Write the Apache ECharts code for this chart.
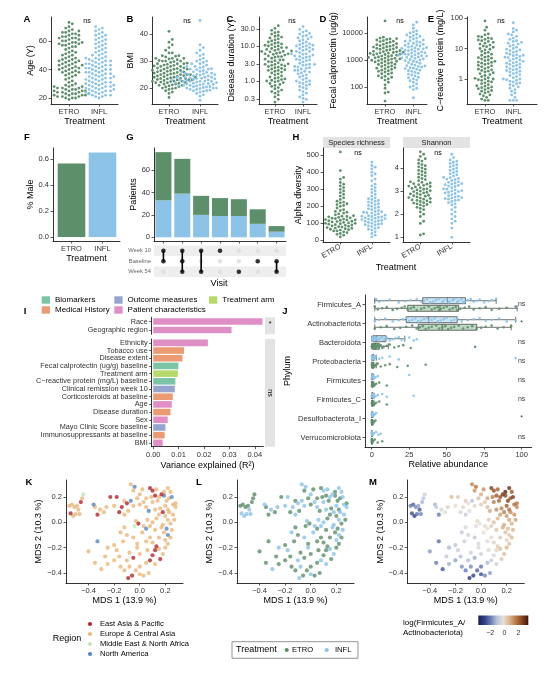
<!DOCTYPE html>
<html>
<head>
<meta charset="utf-8">
<script src="https://cdn.jsdelivr.net/npm/echarts@6/dist/echarts.min.js"></script>
<style>
html, body { margin: 0; padding: 0; background: #fff; }
#chart-container { width: 550px; height: 680px; }
</style>
</head>
<body>
<div id="chart-container"></div>
<script>
// ---------------- data ----------------
const treatments = ['ETRO', 'INFL'];

// A-E baseline characteristics
const ageEtro = [19,20,21,21,22,22,22,23,23,23,24,24,24,25,25,25,26,26,27,27,28,28,29,30,31,33,34,35,36,37,38,38,39,40,40,41,41,42,42,43,43,44,45,45,46,46,47,48,49,50,51,52,53,55,56,57,57,58,58,59,59,60,60,61,62,62,63,64,64,65,66,67,68,69,70,72,73,
  20,21,22,23,24,25,26,27,28,29,20,23,26,36,39,41,44,47,50,38,43,46,56,58,61,63,65,59,62,66,52,54,32,48,67];
const ageInfl = [20,21,22,22,23,23,24,24,25,25,26,26,27,27,28,28,29,29,30,30,31,31,32,33,33,34,34,35,35,36,37,37,38,38,39,40,40,41,41,42,43,43,44,44,45,46,46,47,48,48,49,50,51,52,53,54,55,56,57,58,59,60,61,62,63,64,65,66,67,70,
  22,24,26,28,30,32,34,36,38,40,42,44,46,48,50,25,29,33,37,41,45,27,31,35,39,43,47,52,55,58,61,64,68,69,21];
const bmiEtro = [16.5,18,18.5,19,19.5,20,20,20.5,21,21,21.2,21.5,21.5,22,22,22.2,22.5,22.5,22.8,23,23,23,23.2,23.5,23.5,23.8,24,24,24,24.2,24.5,24.5,24.8,25,25,25,25.2,25.5,25.5,25.8,26,26,26.2,26.5,26.5,27,27,27.2,27.5,27.5,28,28,28.2,28.5,29,29,29.2,29.5,30,30,30.2,30.5,31,31,31.5,32,32,33,34,35,36,37,38,41,
  20.8,21.8,22.4,22.6,23.4,23.6,24.4,24.6,25.4,25.6,26.4,26.6,27.4,27.6,28.4,28.8,29.8,30.8,19.8,20.4,22,23,24,25,26,27,28,29,30,31,31.8,33];
const bmiInfl = [15.5,17,17.5,18,18.5,19,19,19.5,19.5,20,20,20.2,20.5,20.5,21,21,21,21.2,21.5,21.5,21.8,22,22,22,22.2,22.5,22.5,22.5,22.8,23,23,23,23.2,23.5,23.5,23.8,24,24,24,24.5,24.5,25,25,25.5,25.5,26,26,26.5,27,27,27.5,28,28.5,29,29.5,30,30.5,31,32,33,34,35,36,45,
  19.2,19.8,20.4,20.8,21.4,21.6,22.4,22.6,23.4,23.6,24.2,24.8,25.2,25.8,26.2,26.8,27.2,28,29,30,18.8,20,21,22,23,24,25,26,27.8,32.5];
const durationEtro = [0.25,0.3,0.4,0.5,0.5,0.6,0.7,0.8,0.9,1,1,1.1,1.2,1.3,1.5,1.6,1.8,2,2,2.2,2.4,2.6,2.8,3,3,3.3,3.6,4,4,4.5,5,5,5.5,6,6,6.5,7,7,7.5,8,8,9,9,10,10,11,12,13,14,15,16,18,20,22,25,28,32,38,
  0.35,0.45,0.55,0.65,0.75,0.85,0.95,1.05,1.15,1.25,1.4,1.7,1.9,2.1,2.3,2.5,2.7,2.9,3.1,3.5,3.8,4.2,4.8,5.2,5.8,6.2,6.8,7.2,8.5,9.5,10.5,11.5,12.5,17,19,24];
const durationInfl = [0.25,0.3,0.35,0.4,0.5,0.6,0.7,0.8,0.9,1,1,1.2,1.4,1.5,1.7,2,2,2.3,2.5,2.8,3,3,3.5,4,4,4.5,5,5,5.5,6,6,7,7,8,8,9,10,10,11,12,13,15,16,18,20,22,25,30,36,
  0.32,0.45,0.55,0.65,0.75,0.85,0.95,1.1,1.3,1.6,1.8,1.9,2.2,2.4,2.6,2.9,3.2,3.8,4.2,4.8,5.2,5.8,6.5,7.5,8.5,9.5,10.5,11.5,14,17,19,23,27];
const calproEtro = [30,60,65,120,150,180,200,230,260,300,330,360,400,420,450,500,520,550,600,650,700,750,800,850,900,950,1000,1050,1100,1150,1200,1300,1400,1500,1600,1700,1800,1900,2000,2100,2200,2400,2600,2800,3000,3200,3500,3800,4000,4500,5000,5500,6000,6500,7000,28000,
  310,380,480,580,680,780,880,980,1080,1180,1250,1350,1450,1550,1650,1750,1850,1950,2050,2300,2500,2700,2900,3100,3400,3700,4200,4800,5200,5800,6200,250,220,90];
const calproInfl = [40,80,90,100,110,130,150,170,200,230,260,300,350,400,450,500,550,600,650,700,800,900,1000,1100,1200,1300,1400,1500,1600,1700,1800,1900,2000,2200,2400,2600,2800,3000,3300,3600,4000,4500,5000,5500,6000,7000,8000,9000,10000,12000,15000,20000,25000,
  180,220,280,320,380,420,480,520,580,620,750,850,950,1050,1150,1250,1350,1450,1550,1650,1750,1850,2100,2300,2500,2700,2900,3200,3500,3800,4200,4800,5200,6500,7500,8500,11000];
const crpEtro = [0.2,0.2,0.25,0.3,0.35,0.4,0.45,0.5,0.55,0.6,0.7,0.8,0.9,1,1,1.1,1.2,1.4,1.5,1.7,1.9,2,2.2,2.5,2.8,3,3.3,3.6,4,4.5,5,5.5,6,7,8,9,10,11,12,14,16,18,20,22,25,30,40,50,80,
  0.22,0.28,0.32,0.38,0.42,0.48,0.52,0.58,0.65,0.75,0.85,0.95,1.05,1.3,1.6,1.8,2.1,2.4,2.7,3.2,3.5,3.8,4.2,4.8,5.2,6.5,7.5,9.5,11.5,13,15,17,19,21,24,28];
const crpInfl = [0.2,0.2,0.2,0.3,0.4,0.5,0.6,0.7,0.8,0.9,1,1,1.2,1.3,1.5,1.7,2,2.2,2.5,2.8,3,3.3,3.6,4,4.5,5,5.5,6,6.5,7,8,9,10,12,14,16,18,20,25,30,35,40,70,
  0.25,0.35,0.45,0.55,0.65,0.75,0.85,0.95,1.1,1.4,1.6,1.8,1.9,2.1,2.4,2.6,3.1,3.4,3.8,4.2,4.8,5.2,5.8,6.2,7.5,8.5,9.5,11,13,15,17,22,28,45];

// F
const maleShare = [0.565, 0.65];

// G upset
const visitSets = [[0, 1], [0, 1, 2], [0, 2], [0], [2], [1], [1, 2]];
const visitRows = ['Week 10', 'Baseline', 'Week 54'];
const visitInfl = [33, 39, 20, 19, 19, 12, 5];
const visitEtro = [43, 31, 17, 16, 15, 13, 5];

// H alpha diversity
const richnessEtro = [20,30,40,45,50,55,60,65,70,75,80,85,90,95,100,100,105,110,115,120,120,125,130,135,140,145,150,160,170,180,190,200,210,215,220,240,250,260,280,290,300,320,340,370,410,520,
  35,55,62,68,72,78,82,88,92,98,102,108,112,118,122,128,132,138,142,155,165,175,205,225,230,270,310,330,360];
const richnessInfl = [20,40,50,60,70,80,90,95,100,110,115,120,125,130,135,140,145,150,160,165,170,180,185,190,200,210,220,230,240,250,260,280,300,320,350,380,400,420,440,460,
  30,65,75,85,92,98,105,112,118,122,128,132,138,142,148,155,162,168,175,195,205,215,225,235,245,270,290,310,330,360,390,430];
const shannonEtro = [1.1,1.15,1.6,1.7,2.0,2.1,2.2,2.3,2.4,2.45,2.5,2.55,2.6,2.65,2.7,2.75,2.8,2.85,2.9,2.95,3.0,3.05,3.1,3.15,3.2,3.25,3.3,3.35,3.4,3.5,3.6,3.7,3.8,3.9,4.0,4.1,4.2,4.3,4.5,
  1.9,2.25,2.35,2.42,2.48,2.52,2.58,2.62,2.68,2.72,2.78,2.82,2.88,2.92,2.98,3.02,3.08,3.12,3.18,3.22,3.28,3.32,3.38,3.45,3.55,3.65,3.75,3.85,3.95,4.05,4.15,4.35,4.4,4.6,4.7];
const shannonInfl = [1.0,1.4,1.7,1.8,1.9,2.1,2.2,2.4,2.5,2.6,2.65,2.7,2.75,2.8,2.9,2.95,3.0,3.05,3.1,3.2,3.25,3.3,3.35,3.4,3.5,3.55,3.6,3.7,3.8,3.9,4.0,4.1,4.2,4.3,4.6,
  1.6,2.0,2.3,2.45,2.55,2.62,2.68,2.72,2.78,2.85,2.92,2.98,3.02,3.08,3.15,3.22,3.28,3.32,3.38,3.45,3.52,3.58,3.65,3.75,3.85,3.95,4.05,4.15,4.25,4.35,4.45];

// I variance explained
const varTypes = ['Biomarkers', 'Medical History', 'Outcome measures', 'Patient characteristics', 'Treatment arm'];
const varTopLabels = ['Race', 'Geographic region'];
const varTopValues = [0.043, 0.0308];
const varTopTypes = [3, 3];
const varLabels = ['Ethnicity', 'Tobacco use', 'Disease extent', 'Fecal calprotectin (ug/g) baseline', 'Treatment arm',
  'C−reactive protein (mg/L) baseline', 'Clinical remission week 10', 'Corticosteroids at baseline', 'Age',
  'Disease duration', 'Sex', 'Mayo Clinic Score baseline', 'Immunosuppressants at baseline', 'BMI'];
const varValues = [0.0215, 0.0121, 0.0115, 0.0099, 0.0097, 0.0087, 0.0085, 0.0077, 0.0073, 0.0068, 0.0057, 0.0048, 0.0045, 0.0037];
const varBotTypes = [3, 1, 1, 0, 4, 0, 2, 1, 3, 1, 3, 2, 1, 3];

// J phyla
const phyla = ['Firmicutes_A', 'Actinobacteriota', 'Bacteroidota', 'Proteobacteria', 'Firmicutes', 'Firmicutes_C', 'Desulfobacterota_I', 'Verrucomicrobiota'];
const phylumSig = ['ns', '*', 'ns', 'ns', 'ns', 'ns', '*', 'ns'];
const boxInfl = [[2,34,50.5,62.5,83],[2,23,38,57,96],[0,0.8,3,9.5,22],[0,0.3,0.7,1.5,3],[0,0.1,0.3,0.6,1.3],[0,0.1,0.3,0.7,1.5],[0,0,0.1,0.3,0.8],[0,0,0.05,0.2,0.5]];
const boxEtro = [[2,24,45.5,58,97],[2,31,47,70,93],[0,0.5,2.5,5,11],[0,0.3,0.6,1.3,3],[0,0.1,0.3,0.6,1.3],[0,0.1,0.3,0.7,1.5],[0,0,0.1,0.3,0.8],[0,0,0.05,0.2,0.5]];
const abundInfl = [
  [3,5,8,12,18,22,26,30,33,35,37,39,41,43,45,47,48,50,51,52,54,55,57,58,60,61,62,64,66,68,70,72,75,78,80,83],
  [2,5,9,14,18,21,23,25,27,29,31,33,35,37,38,40,42,44,46,48,50,53,55,57,60,64,68,72,76,80,85,90,96],
  [0.2,0.5,0.8,1,1.5,2,2.5,3,3.5,4,5,6,7,8,9,10,12,14,16,18,20,22,25,28,30],
  [0.1,0.2,0.3,0.4,0.5,0.6,0.8,1,1.2,1.5,2,3,5,7,12,18,96],
  [0.1,0.2,0.3,0.4,0.5,0.7,1,1.5,2.5,4,25],
  [0.1,0.2,0.3,0.5,0.7,1,1.5,2.5,4,7,10,28],
  [0,0.1,0.2,0.3,0.5,0.8,1.2,2,3],
  [0,0.05,0.1,0.2,0.4,0.8,1.5,3,4.5,6]
];
const abundEtro = [
  [2,4,7,10,14,17,20,22,24,26,28,30,33,35,38,40,42,44,45,46,48,50,52,54,56,57,59,62,65,68,72,76,80,85,90,96],
  [2,6,10,15,19,23,27,30,32,34,36,38,40,43,45,47,49,51,53,55,58,61,64,67,70,73,76,80,84,88,93],
  [0.1,0.3,0.5,0.8,1,1.3,1.6,2,2.3,2.6,3,3.5,4,4.5,5,6,7,8,10,12,15,18,21,26,69],
  [0.1,0.2,0.3,0.4,0.5,0.7,0.9,1.1,1.4,2,3,4,6,9,12,17,24,36],
  [0.1,0.2,0.3,0.4,0.5,0.7,1,1.5,2,3,5,10],
  [0.1,0.2,0.3,0.4,0.6,0.9,1.3,2,3,5,10],
  [0,0.1,0.2,0.3,0.4,0.6,1,1.5,2.5],
  [0,0.05,0.1,0.2,0.3,0.6,1,2,4,7]
];

// K-M ordination
const regions = ['East Asia & Pacific', 'Europe & Central Asia', 'Middle East & North Africa', 'North America'];
const mdsX = [
  -0.55,-0.53,-0.51,-0.54,-0.52,-0.49,-0.50,-0.47,-0.46,-0.45,-0.44,-0.48,
  -0.36,-0.35,-0.33,-0.31,-0.28,-0.26,-0.23,-0.20,-0.18,-0.16,-0.14,-0.12,-0.10,-0.12,-0.09,-0.07,
  -0.07,-0.04,-0.05,0.00,-0.02,0.03,0.05,0.08,0.10,0.12,0.10,0.14,0.17,0.19,0.22,0.23,0.26,0.28,0.20,0.16,0.05,0.00,-0.05,0.07,0.12,0.22,0.18,0.25,0.19,0.15,0.21,0.24,0.02,0.28,0.09,0.13,
  0.20,0.22,0.24,0.18,0.21,0.25,0.19,0.22,0.15,0.20,0.24,0.17,0.13,0.10,0.15,0.26,0.12,0.08,0.05,0.03,-0.01,-0.03,-0.04,0.06,0.27,0.23,
  -0.33,-0.40,-0.30,-0.25,-0.27,-0.20,-0.18,-0.15,-0.12,-0.10,-0.08,-0.05,-0.02,-0.06,-0.09,-0.03,0.00,0.00,0.03,0.05,0.08,0.10,0.12,0.13,0.15,0.05,0.08,-0.05,-0.10,-0.12,-0.15,0.16,0.02,0.10,-0.20,-0.02,0.18,0.00,0.06,-0.25,-0.35,-0.16,0.12,0.07,-0.13,0.20,-0.08,0.22
];
const mdsY = [
  0.13,0.14,0.12,0.07,0.05,0.13,0.065,0.065,0.16,0.19,0.22,0.10,
  0.14,0.12,0.06,0.10,0.08,0.12,0.20,0.13,0.20,0.08,0.12,0.17,0.15,0.06,0.09,0.17,
  0.30,0.28,0.25,0.22,0.19,0.16,0.19,0.27,0.25,0.21,0.16,0.17,0.22,0.21,0.27,0.19,0.14,0.15,0.13,0.11,0.12,0.14,0.13,0.09,0.10,0.10,0.08,0.20,0.24,0.20,0.17,0.24,0.26,0.12,0.20,0.26,
  0.05,0.02,-0.01,-0.02,-0.05,-0.06,-0.08,-0.10,-0.12,-0.14,-0.12,-0.04,0.03,0.00,0.06,0.06,-0.06,-0.03,-0.05,-0.03,-0.01,0.01,-0.03,0.02,0.02,0.08,
  -0.15,-0.23,-0.37,-0.33,-0.27,-0.30,-0.22,-0.35,-0.38,-0.30,-0.24,-0.28,-0.20,-0.42,-0.44,-0.38,-0.35,-0.41,-0.42,-0.32,-0.30,-0.26,-0.22,-0.19,-0.21,-0.15,-0.12,-0.12,-0.10,-0.04,-0.08,-0.29,-0.08,-0.16,-0.18,-0.17,-0.25,-0.25,-0.22,-0.20,-0.32,-0.27,-0.33,-0.40,-0.15,-0.20,-0.35,-0.17
];
const mdsRegion = [
  1,1,1,0,1,1,1,1,0,1,2,1,
  3,1,0,1,1,1,0,1,0,0,0,1,0,1,1,3,
  1,3,1,1,1,1,1,0,0,0,1,1,0,3,1,1,1,1,1,1,1,1,1,3,1,1,0,3,1,1,1,1,1,1,1,1,
  1,1,1,1,3,1,1,3,1,1,1,1,1,1,1,1,1,1,3,1,0,1,2,1,1,1,
  3,1,1,1,1,1,1,1,1,1,1,0,1,0,0,1,1,1,1,1,0,0,0,0,1,1,1,1,1,1,1,0,1,1,1,1,1,1,1,1,1,1,1,1,1,1,1,1
];
const mdsTreatment = [
  0,0,0,1,1,0,1,1,0,0,0,1,
  1,0,0,1,0,1,0,1,1,0,1,0,1,1,0,1,
  1,1,0,1,0,1,0,0,1,0,1,0,1,0,1,0,1,0,1,0,1,0,1,0,1,0,1,1,0,1,0,1,0,1,0,1,
  0,1,0,1,0,1,0,1,0,1,0,1,0,1,0,1,0,1,0,1,0,1,0,1,0,1,
  0,0,1,0,0,0,1,0,0,1,0,0,1,0,1,0,0,1,0,0,1,0,0,0,1,0,0,1,0,0,1,0,1,0,0,0,1,0,0,1,0,0,1,0,0,0,1,0
];
const mdsRatio = [
  -2.0,-2.3,-1.8,-2.6,-2.8,-1.5,-2.2,-1.9,-1.2,-1.0,-0.6,-2.5,
  -1.2,-0.8,-2.0,-0.5,-0.3,0.2,0.6,0.0,0.4,-0.5,0.1,0.3,-0.2,-0.8,-0.3,-1.0,
  1.5,1.8,1.2,0.8,0.5,0.4,1.0,2.6,2.4,2.2,1.6,2.0,2.8,2.5,2.9,2.3,1.9,1.7,2.1,1.5,0.6,0.3,0.1,0.9,1.3,1.8,1.6,2.7,3.0,2.4,2.6,2.2,1.3,1.4,1.7,2.0,
  1.2,1.0,0.8,0.9,0.6,0.7,0.5,0.4,0.3,0.2,0.6,0.8,0.7,0.5,1.1,1.3,0.4,0.2,-0.1,0.0,-0.2,0.1,-0.3,0.3,1.0,1.4,
  -2.2,-1.6,-2.5,-1.3,-0.9,-1.5,-0.7,-1.7,-2.0,-1.1,-0.6,-1.4,-0.4,-2.8,-3.0,-2.4,-2.1,-2.6,-1.9,-1.2,-0.8,-0.5,0.1,0.3,0.5,-0.3,0.0,-0.9,-0.6,-0.4,-0.8,0.4,-0.2,0.2,-1.0,-0.5,0.6,-0.7,-0.4,-1.2,-2.0,-1.1,-0.6,-1.6,-0.7,0.7,-1.8,0.5
];
const ratioRange = [-3.7, 3.4];
const ratioTicks = [-2, 0, 2];

// ---------------- styling ----------------
const FONT = "'Liberation Sans', Arial, sans-serif";
const TXT = '#333';
const ETRO_COL = '#5e8f6b', INFL_COL = '#8dc3e6';
const typeColors = ['#7cc4a6', '#ec9a73', '#96a5cf', '#e08fc6', '#b5d96a'];
const regionColors = ['#b0282d', '#e9b77c', '#c7e3b8', '#5a84c2'];
const ratioColors = ['#1b1c4f', '#2f3f86', '#6b80b5', '#b9c3da', '#e6e0da', '#d9b38f', '#b97a45', '#86451f', '#3e130c'];

const grids = [], xAxes = [], yAxes = [], series = [], graphics = [];

function addGrid(g) { grids.push(Object.assign({ outerBoundsMode: 'none', containLabel: false }, g)); return grids.length - 1; }
function addX(ax) { xAxes.push(ax); return xAxes.length - 1; }
function addY(ax) { yAxes.push(ax); return yAxes.length - 1; }

function axisName(name, gap) {
  return { name: name, nameLocation: 'middle', nameGap: gap, nameTextStyle: { color: '#000', fontSize: 9, fontFamily: FONT } };
}
function valAxis(gi, range, ticks, fmt, o) {
  o = o || {};
  return Object.assign({
    type: 'value', gridIndex: gi, min: range[0], max: range[1], inverse: !!o.inverse,
    axisLine: { show: true, onZero: false, lineStyle: { color: '#000', width: 0.8 } },
    axisTick: { show: true, length: 2.5, customValues: ticks, lineStyle: { color: TXT, width: 0.8 } },
    axisLabel: { show: true, customValues: ticks, formatter: fmt, color: TXT, fontSize: 7.5, fontFamily: FONT, margin: 4, rotate: o.rotate || 0 },
    splitLine: { show: false }
  }, o.name ? axisName(o.name, o.gap) : {});
}
function catAxis(gi, cats, o) {
  o = o || {};
  return Object.assign({
    type: 'category', gridIndex: gi, data: cats, inverse: !!o.inverse,
    axisLine: { show: true, onZero: false, lineStyle: { color: '#000', width: 0.8 } },
    axisTick: { show: true, length: 2.5, alignWithLabel: true, interval: 0, lineStyle: { color: TXT, width: 0.8 } },
    axisLabel: { show: o.labels !== false, interval: 0, color: TXT, fontSize: o.size || 7.5, fontFamily: FONT, margin: 4 },
    splitLine: { show: false }
  }, o.name ? axisName(o.name, o.gap) : {});
}
function text(x, y, str, o) {
  o = o || {};
  return { type: 'text', x: x, y: y, rotation: o.rot || 0, z: 10,
    style: { text: str, fill: o.color || '#000', fontSize: o.size || 9, fontFamily: FONT,
      fontWeight: o.bold ? 'bold' : 'normal', align: o.align || 'center', verticalAlign: 'middle' } };
}
function rect(x, y, w, h, fill, stroke) {
  return { type: 'rect', shape: { x: x, y: y, width: w, height: h }, style: { fill: fill || 'none', stroke: stroke || null, lineWidth: 0.8 } };
}
function dot(cx, cy, r, fill) { return { type: 'circle', shape: { cx: cx, cy: cy, r: r }, style: { fill: fill } }; }
const fmtMinus = v => (v < 0 ? '−' : '') + Math.abs(v).toFixed(1);

// beeswarm: offsets in pixels so dots do not overlap, converted back to axis units
function swarm(vals, center, g, xr, yr, d) {
  const ky = g.height / (yr[1] - yr[0]);
  const kx = g.width / (xr[1] - xr[0]);
  const placed = [], out = [];
  vals.slice().sort((a, b) => a - b).forEach(v => {
    const py = (v - yr[0]) * ky;
    let best = 0;
    for (let k = 0; k < 80; k++) {
      const off = (k % 2 ? 1 : -1) * Math.ceil(k / 2) * d * 0.5;
      const hit = placed.some(p => Math.abs(p[1] - py) < d && (p[0] - off) * (p[0] - off) + (p[1] - py) * (p[1] - py) < d * d);
      if (!hit) { best = off; break; }
    }
    placed.push([best, py]);
    out.push([center + best / kx, v]);
  });
  return out;
}

function swarmPanel(p) {
  const gi = addGrid(p.grid);
  const xi = addX(valAxis(gi, p.xr, [1, 2], v => treatments[Math.round(v) - 1],
    { name: p.xName, gap: 13.5, rotate: p.rotate }));
  const tr = p.log ? Math.log10 : (v => v);
  const ticks = p.ticks.map(tr);
  const labels = p.labels || p.ticks.map(String);
  const yi = addY(valAxis(gi, p.yr, ticks, v => labels[ticks.findIndex(t => Math.abs(t - v) < 1e-6)], { name: p.yName, gap: p.gap }));
  [[p.etro, ETRO_COL, 1], [p.infl, INFL_COL, 2]].forEach(([vals, col, c]) => {
    series.push({ type: 'scatter', xAxisIndex: xi, yAxisIndex: yi, symbolSize: 2.8, itemStyle: { color: col, opacity: 1 },
      data: swarm(vals.map(tr), c, p.grid, p.xr, p.yr, 3.3) });
  });
}

// ---------------- A-E ----------------
swarmPanel({ grid: { left: 51, top: 17, width: 67, height: 87 }, xr: [0.4, 2.633], yr: [15.8, 76.8],
  etro: ageEtro, infl: ageInfl, ticks: [20, 40, 60], yName: 'Age (Y)', gap: 15.5, xName: 'Treatment' });
swarmPanel({ grid: { left: 152, top: 17, width: 66, height: 87 }, xr: [0.452, 2.58], yr: [14.1, 46.3],
  etro: bmiEtro, infl: bmiInfl, ticks: [20, 30, 40], yName: 'BMI', gap: 16.5, xName: 'Treatment' });
swarmPanel({ grid: { left: 259, top: 17, width: 58, height: 87 }, xr: [0.43, 2.5], yr: [-0.657, 1.829], log: true,
  etro: durationEtro, infl: durationInfl, ticks: [0.3, 1, 3, 10, 30], labels: ['0.3', '1.0', '3.0', '10.0', '30.0'],
  yName: 'Disease duration (Y)', gap: 22.5, xName: 'Treatment' });
swarmPanel({ grid: { left: 367, top: 17, width: 60, height: 87 }, xr: [0.364, 2.48], yr: [1.37, 4.593], log: true,
  etro: calproEtro, infl: calproInfl, ticks: [100, 1000, 10000], yName: 'Fecal calprotectin (ug/g)', gap: 28, xName: 'Treatment' });
swarmPanel({ grid: { left: 467, top: 17, width: 70, height: 87 }, xr: [0.364, 2.84], yr: [-0.82, 2.033], log: true,
  etro: crpEtro, infl: crpInfl, ticks: [1, 10, 100], yName: 'C−reactive protein (mg/L)', gap: 22, xName: 'Treatment' });

[['A', 27, 87], ['B', 130, 187], ['C', 230, 292], ['D', 323, 400], ['E', 431, 501]].forEach(([l, x, nsx]) => {
  graphics.push(text(x, 19, l, { bold: true, size: 9.5 }));
  graphics.push(text(nsx, 21, 'ns', { size: 7 }));
});

// ---------------- F ----------------
{
  const g = { left: 53, top: 148, width: 67, height: 93 };
  const gi = addGrid(g);
  const xi = addX(valAxis(gi, [0.403, 2.565], [1, 2], v => treatments[Math.round(v) - 1], { name: 'Treatment', gap: 13.5 }));
  const yi = addY(valAxis(gi, [-0.031, 0.685], [0, 0.2, 0.4, 0.6], v => v.toFixed(1), { name: '% Male', gap: 17 }));
  series.push({ type: 'bar', xAxisIndex: xi, yAxisIndex: yi, barWidth: 27.6,
    data: maleShare.map((v, i) => ({ value: [i + 1, v], itemStyle: { color: i ? INFL_COL : ETRO_COL } })) });
  graphics.push(text(27, 137, 'F', { bold: true, size: 9.5 }));
}

// ---------------- G ----------------
{
  const cols = visitSets.map((s, i) => String(i + 1));
  const gi = addGrid({ left: 154, top: 148, width: 132, height: 93 });
  const xi = addX(catAxis(gi, cols, { labels: false }));
  const yi = addY(valAxis(gi, [-3.3, 79.7], [0, 20, 40, 60], String, { name: 'Patients', gap: 15.5 }));
  series.push({ type: 'bar', stack: 'v', xAxisIndex: xi, yAxisIndex: yi, barCategoryGap: '15%', itemStyle: { color: INFL_COL }, data: visitInfl });
  series.push({ type: 'bar', stack: 'v', xAxisIndex: xi, yAxisIndex: yi, barCategoryGap: '15%', itemStyle: { color: ETRO_COL }, data: visitEtro });

  const mi = addGrid({ left: 154, top: 245.5, width: 132, height: 31.5 });
  const mx = addX({ type: 'category', gridIndex: mi, data: cols, axisLine: { show: false }, axisTick: { show: false }, axisLabel: { show: false } });
  const my = addY({ type: 'category', gridIndex: mi, data: visitRows, inverse: true,
    axisLine: { show: false }, axisTick: { show: false },
    axisLabel: { color: '#666', fontSize: 5.8, fontFamily: FONT, margin: 3, interval: 0 },
    splitArea: { show: true, interval: 0, areaStyle: { color: ['#eeeeee', '#ffffff'] } } });
  const empty = [], filled = [];
  visitSets.forEach((s, c) => visitRows.forEach((r, ri) => (s.indexOf(ri) >= 0 ? filled : empty).push([c, ri])));
  series.push({ type: 'scatter', xAxisIndex: mx, yAxisIndex: my, symbolSize: 4.6, itemStyle: { color: '#dcdcdc' }, data: empty });
  visitSets.forEach((s, c) => {
    if (s.length > 1) {
      series.push({ type: 'line', xAxisIndex: mx, yAxisIndex: my, symbol: 'none', lineStyle: { color: '#000', width: 1.6 },
        data: [[c, Math.min.apply(null, s)], [c, Math.max.apply(null, s)]] });
    }
  });
  series.push({ type: 'scatter', xAxisIndex: mx, yAxisIndex: my, symbolSize: 4.6, itemStyle: { color: '#000' }, data: filled, z: 5 });
  graphics.push(text(130, 137, 'G', { bold: true, size: 9.5 }));
  graphics.push(text(219, 284, 'Visit'));
}

// ---------------- H ----------------
swarmPanel({ grid: { left: 323, top: 148, width: 67, height: 94 }, xr: [0.45, 2.577], yr: [-10, 543], rotate: 30,
  etro: richnessEtro, infl: richnessInfl, ticks: [0, 100, 200, 300, 400, 500], yName: 'Alpha diversity', gap: 18.5 });
swarmPanel({ grid: { left: 403, top: 148, width: 67, height: 94 }, xr: [0.45, 2.577], yr: [0.797, 4.866], rotate: 30,
  etro: shannonEtro, infl: shannonInfl, ticks: [1, 2, 3, 4] });
graphics.push(text(296, 137, 'H', { bold: true, size: 9.5 }));
graphics.push(rect(323, 137, 67, 11, '#e3e3e3'), text(356.5, 142.5, 'Species richness', { size: 7.5, color: '#1a1a1a' }));
graphics.push(rect(403, 137, 67, 11, '#e3e3e3'), text(436.5, 142.5, 'Shannon', { size: 7.5, color: '#1a1a1a' }));
graphics.push(text(358, 152.7, 'ns', { size: 7 }), text(438, 152.7, 'ns', { size: 7 }));
graphics.push(text(396, 268, 'Treatment'));

// ---------------- I ----------------
{
  const xr = [-0.0006, 0.0433];
  const ticks = [0, 0.01, 0.02, 0.03, 0.04];
  const gt = addGrid({ left: 151.7, top: 317.3, width: 111.6, height: 17 });
  const xt = addX(Object.assign(valAxis(gt, xr, ticks, v => v.toFixed(2)), { show: false }));
  const yt = addY(catAxis(gt, varTopLabels, { inverse: true, size: 7.3 }));
  series.push({ type: 'bar', xAxisIndex: xt, yAxisIndex: yt, barWidth: 6.6,
    data: varTopValues.map((v, i) => ({ value: v, itemStyle: { color: typeColors[varTopTypes[i]] } })) });
  const gb = addGrid({ left: 151.7, top: 339, width: 111.6, height: 107.7 });
  const xb = addX(valAxis(gb, xr, ticks, v => v.toFixed(2), { name: 'Variance explained (R²)', gap: 14.5 }));
  const yb = addY(catAxis(gb, varLabels, { inverse: true, size: 7.3 }));
  series.push({ type: 'bar', xAxisIndex: xb, yAxisIndex: yb, barWidth: 6.6,
    data: varValues.map((v, i) => ({ value: v, itemStyle: { color: typeColors[varBotTypes[i]] } })) });

  graphics.push(text(25, 311, 'I', { bold: true, size: 9.5 }));
  graphics.push(rect(265, 317.3, 10, 17, '#e3e3e3'), text(270, 324, '*', { size: 7 }));
  graphics.push(rect(265, 339, 10, 107.7, '#e3e3e3'), text(270, 393, 'ns', { size: 7, rot: -Math.PI / 2 }));
  // legend
  const legendPos = [[41.7, 300], [41.7, 310], [114.3, 300], [114.3, 310], [209, 300]];
  varTypes.forEach((t, i) => {
    const [x, y] = legendPos[i];
    graphics.push(rect(x, y - 3.7, 8.3, 7.4, typeColors[i]));
    graphics.push(text(x + 13.3, y, t, { size: 8, align: 'left' }));
  });
}

// ---------------- J ----------------
{
  const g = { left: 365, top: 295, width: 166.7, height: 152 };
  const gi = addGrid(g);
  const xi = addX(valAxis(gi, [-4.5, 106.7], [0, 25, 50, 75, 100], String, { name: 'Relative abundance', gap: 13.5 }));
  const yi = addY(catAxis(gi, phyla, { inverse: true, name: 'Phylum', gap: 72.5 }));
  const yv = addY({ type: 'value', gridIndex: gi, min: -0.5, max: 7.5, inverse: true, show: false });
  series.push({ type: 'boxplot', xAxisIndex: xi, yAxisIndex: yi, boxWidth: [6, 6],
    itemStyle: { color: 'rgba(190,222,242,0.75)', borderColor: '#333', borderWidth: 0.7 }, data: boxInfl });
  series.push({ type: 'boxplot', xAxisIndex: xi, yAxisIndex: yi, boxWidth: [6, 6],
    itemStyle: { color: 'rgba(170,204,178,0.75)', borderColor: '#333', borderWidth: 0.7 }, data: boxEtro });
  const jit = k => (((k * 5) % 7) - 3) * 0.03;
  [[abundInfl, INFL_COL, -0.2], [abundEtro, ETRO_COL, 0.2]].forEach(([sets, col, off]) => {
    const pts = [];
    sets.forEach((vals, r) => vals.forEach((v, k) => pts.push([v, r + off + jit(k + r)])));
    series.push({ type: 'scatter', xAxisIndex: xi, yAxisIndex: yv, symbolSize: 2.6, itemStyle: { color: col, opacity: 0.9 }, data: pts, z: 4 });
  });
  series.push({ type: 'scatter', xAxisIndex: xi, yAxisIndex: yv, symbolSize: 0, silent: true,
    label: { show: true, position: 'inside', formatter: p => phylumSig[p.dataIndex], color: '#000', fontSize: 7, fontFamily: FONT },
    data: phyla.map((p, i) => [100, i]) });
  graphics.push(text(285, 311, 'J', { bold: true, size: 9.5 }));
}

// ---------------- K, L, M ----------------
const mdsTicks = [-0.4, -0.2, 0, 0.2];
function mdsPanel(left) {
  const gi = addGrid({ left: left, top: 480, width: 117, height: 103 });
  const xi = addX(valAxis(gi, [-0.576, 0.338], mdsTicks, fmtMinus, { name: 'MDS 1 (13.9 %)', gap: 13.5 }));
  const yi = addY(valAxis(gi, [-0.479, 0.334], mdsTicks, fmtMinus, { name: 'MDS 2 (10.3 %)', gap: 21.5 }));
  return [xi, yi];
}
let mSeries = 0;
{
  const [kx, ky] = mdsPanel(66);
  [1, 2, 3, 0].forEach(r => {
    series.push({ type: 'scatter', xAxisIndex: kx, yAxisIndex: ky, symbolSize: 4.2, itemStyle: { color: regionColors[r] },
      data: mdsX.map((x, i) => [x, mdsY[i], mdsRegion[i]]).filter(d => d[2] === r) });
  });
  const [lx, ly] = mdsPanel(237);
  [0, 1].forEach(t => {
    series.push({ type: 'scatter', xAxisIndex: lx, yAxisIndex: ly, symbolSize: 4.2, itemStyle: { color: t ? INFL_COL : ETRO_COL },
      data: mdsX.map((x, i) => [x, mdsY[i], mdsTreatment[i]]).filter(d => d[2] === t) });
  });
  const [mx, my] = mdsPanel(407.3);
  mSeries = series.length;
  series.push({ type: 'scatter', xAxisIndex: mx, yAxisIndex: my, symbolSize: 4.2,
    data: mdsX.map((x, i) => [x, mdsY[i], mdsRatio[i]]) });

  graphics.push(text(29, 482, 'K', { bold: true, size: 9.5 }), text(199, 482, 'L', { bold: true, size: 9.5 }), text(373, 482, 'M', { bold: true, size: 9.5 }));
  // region legend
  graphics.push(text(67, 639, 'Region'));
  regions.forEach((r, i) => {
    graphics.push(dot(90, 624 + i * 10, 2.1, regionColors[i]));
    graphics.push(text(100, 624 + i * 10, r, { size: 7.6, align: 'left' }));
  });
  // treatment legend
  graphics.push(rect(232, 641.7, 126, 16.6, null, '#777'));
  graphics.push(text(236, 650, 'Treatment', { align: 'left' }));
  graphics.push(dot(286.7, 650, 2.1, ETRO_COL), text(292, 650, 'ETRO', { size: 7.6, align: 'left' }));
  graphics.push(dot(326.7, 650, 2.1, INFL_COL), text(335, 650, 'INFL', { size: 7.6, align: 'left' }));
  // colour bar (same colour ramp as the visualMap of panel M)
  graphics.push(text(403, 623, 'log(Firmicutes_A/', { size: 8, align: 'left' }));
  graphics.push(text(403, 633, 'Actinobacteriota)', { size: 8, align: 'left' }));
  graphics.push({ type: 'rect', shape: { x: 478.3, y: 615.5, width: 50, height: 9.5 },
    style: { fill: { type: 'linear', x: 0, y: 0, x2: 1, y2: 0,
      colorStops: ratioColors.map((c, i) => ({ offset: i / (ratioColors.length - 1), color: c })) } } });
  ratioTicks.forEach(v => {
    const x = 478.3 + (v - ratioRange[0]) / (ratioRange[1] - ratioRange[0]) * 50;
    graphics.push(text(x, 633, fmtMinus(v).replace('.0', ''), { size: 7, color: TXT }));
  });
}

const myChart = echarts.init(document.getElementById('chart-container'));
myChart.setOption({
  animation: false,
  backgroundColor: '#fff',
  textStyle: { fontFamily: FONT },
  grid: grids,
  xAxis: xAxes,
  yAxis: yAxes,
  series: series,
  visualMap: [{
    type: 'continuous', show: false, seriesIndex: mSeries, dimension: 2, min: ratioRange[0], max: ratioRange[1],
    inRange: { color: ratioColors }
  }],
  graphic: graphics
});
window.addEventListener('resize', function () { myChart.resize(); });
</script>
</body>
</html>
